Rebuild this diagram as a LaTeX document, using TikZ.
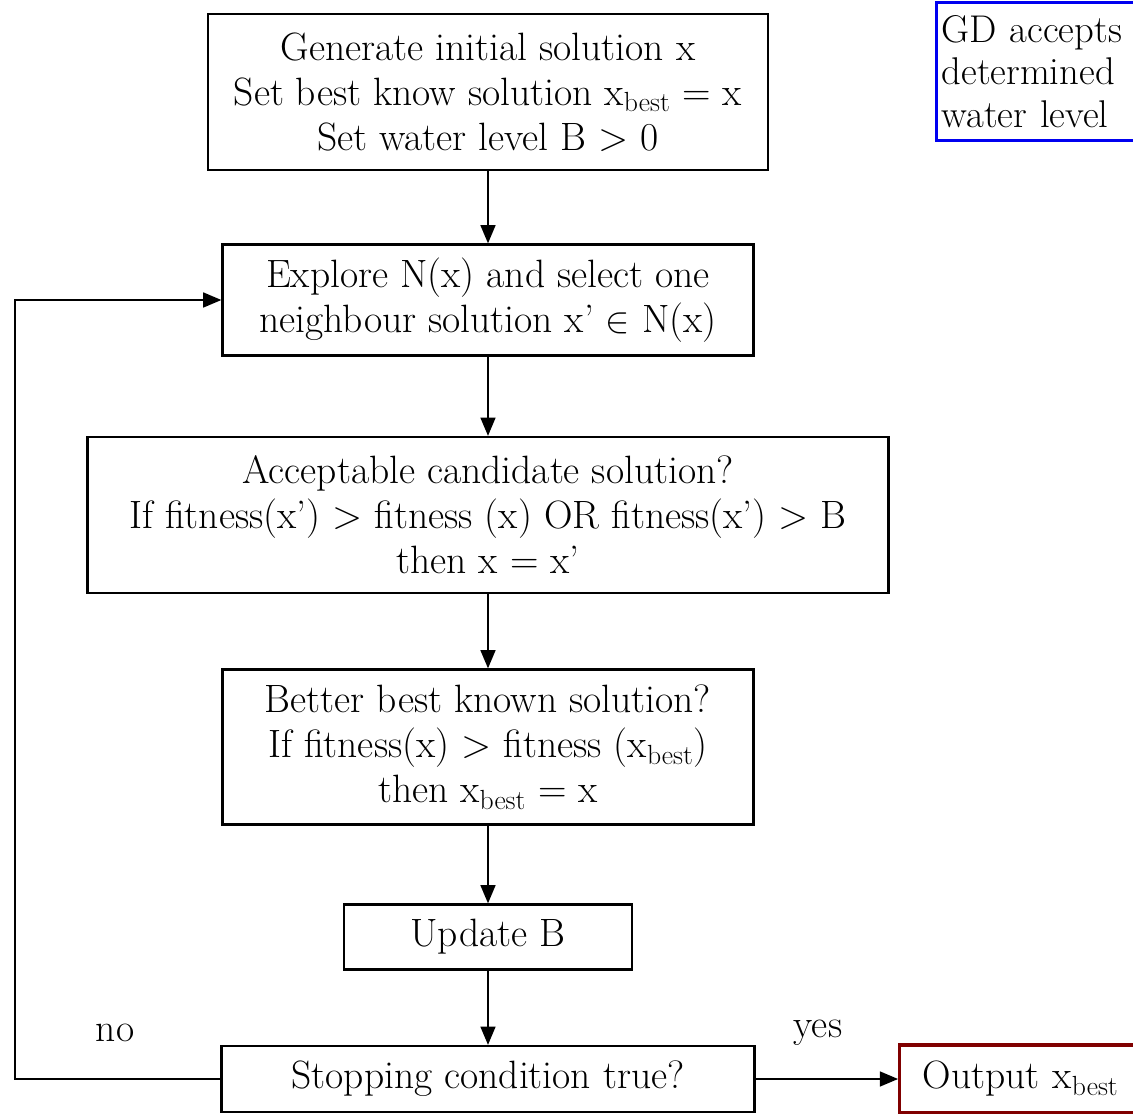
\documentclass[tikz,border=0pt]{standalone}
\usepackage{tikz}
\usetikzlibrary{arrows}
\usetikzlibrary{positioning}
\definecolor{outred}{RGB}{128,0,0}
\definecolor{noteblue}{RGB}{0,0,240}
\newcommand{\xbest}{x\textsubscript{best}}
\newcommand{\flowfont}{\fontsize{22.5}{25.6}\selectfont}
\newcommand{\notefont}{\fontsize{22}{24}\selectfont}

\begin{document}
\begin{tikzpicture}[line join=miter,>=triangle 45,x=0.02cm,y=-0.02cm,
  box/.style={draw=black,line width=1.4pt,align=center,font=\flowfont,inner sep=0pt},
  flow/.style={->,line width=1.4pt},
  lbl/.style={font=\flowfont,inner sep=0pt}]
\useasboundingbox (0,0) rectangle (1133,1114);
\clip (0,0) rectangle (1133,1114);
% the flow
\node[box,minimum width=11.2cm,minimum height=3.12cm] (init) at (488,92)
  {Generate initial solution x\\Set best know solution \xbest{} = x\\Set water level B > 0};
\node[box,minimum width=10.62cm,minimum height=2.22cm] (explore) at (488,300)
  {Explore N(x) and select one\\neighbour solution x’ $\in$ N(x)};
\node[box,minimum width=16.02cm,minimum height=3.12cm] (accept) at (488,515)
  {Acceptable candidate solution?\\If fitness(x’) > fitness (x) OR fitness(x’) > B\\then x = x’};
\node[box,minimum width=10.62cm,minimum height=3.1cm] (better) at (488,747)
  {Better best known solution?\\If fitness(x) > fitness (\xbest)\\then \xbest{} = x};
\node[box,minimum width=5.76cm,minimum height=1.3cm] (update) at (488,937) {Update B};
\node[box,minimum width=10.66cm,minimum height=1.32cm] (stop) at (488,1079) {Stopping condition true?};
\node[box,draw=outred,line width=1.8pt,anchor=west,align=left,text width=5cm,inner xsep=0.46cm,
  minimum height=1.36cm] (output) at (898,1079) {Output \xbest};
% note, cut at the edge
\node[draw=noteblue,line width=1.8pt,anchor=north west,align=left,font=\notefont,
  text width=6cm,inner xsep=0.1cm,inner ysep=0.12cm,minimum height=2.76cm] (note) at (935,1)
  {GD accepts\\determined\\water level};
\node[lbl] (no) at (115,1033) {no};
\node[lbl] (yes) at (818,1033) {yes};
\coordinate (loop) at (15,1079);
\draw[flow] (init) -- (explore);
\draw[flow] (explore) -- (accept);
\draw[flow] (accept) -- (better);
\draw[flow] (better) -- (update);
\draw[flow] (update) -- (stop);
\draw[flow] (stop) -- (output);
\draw[flow] (stop.west) -- (loop) |- (explore.west);
\end{tikzpicture}
\end{document}
